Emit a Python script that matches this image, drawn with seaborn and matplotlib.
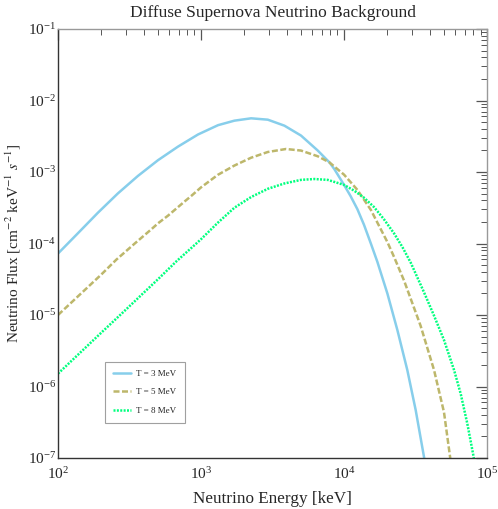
import numpy as np
import pandas as pd
import matplotlib
matplotlib.use('Agg')
import matplotlib.pyplot as plt
import seaborn as sns

# values: energy in keV, log10 of flux in cm^-2 keV^-1 s^-1
e_t3 = [100, 138, 190, 262, 362, 500, 690, 953, 1315, 1710, 2240, 2930, 3830, 5000,
        6550, 7900, 8560, 10000, 11100, 12400, 13800, 15400, 17100, 20100, 23600, 27700,
        31700, 36200, 40000]
logf_t3 = [-4.14, -3.855, -3.57, -3.30, -3.055, -2.835, -2.645, -2.475, -2.345, -2.282,
           -2.249, -2.268, -2.352, -2.49, -2.70, -2.865, -2.96, -3.18, -3.335, -3.52,
           -3.74, -4.0, -4.256, -4.70, -5.21, -5.77, -6.33, -6.98, -7.5]

e_t5 = [100, 200, 256, 344, 450, 500, 588, 770, 854, 1000, 1310, 1710, 2240, 2930, 3930,
        5000, 6550, 7900, 10000, 12400, 15400, 20100, 22400, 26300, 34300, 42600, 50000,
        55100, 60000]
logf_t5 = [-5.0, -4.437, -4.225, -4.0, -3.80, -3.718, -3.61, -3.41, -3.335, -3.215, -3.04,
           -2.91, -2.80, -2.72, -2.678, -2.70, -2.78, -2.865, -3.037, -3.25, -3.53, -3.98,
           -4.19, -4.52, -5.15, -5.77, -6.36, -6.98, -7.5]

e_t8 = [100, 200, 300, 500, 672, 927, 1000, 1310, 1710, 2240, 2930, 3830, 5000, 6210,
        7690, 10000, 11750, 13800, 16200, 19000, 22400, 25600, 29300, 36200, 42600, 50000,
        58800, 65400, 72800, 80500, 88000]
logf_t8 = [-5.82, -5.25, -4.92, -4.50, -4.25, -4.0, -3.94, -3.71, -3.50, -3.35, -3.235,
           -3.16, -3.11, -3.098, -3.11, -3.18, -3.26, -3.36, -3.49, -3.66, -3.86, -4.05,
           -4.27, -4.68, -5.01, -5.35, -5.77, -6.10, -6.52, -6.98, -7.5]

labels = ['T = 3 MeV', 'T = 5 MeV', 'T = 8 MeV']

df = pd.concat([
    pd.DataFrame({'E': e_t3, 'F': 10 ** np.array(logf_t3), 'T': labels[0]}),
    pd.DataFrame({'E': e_t5, 'F': 10 ** np.array(logf_t5), 'T': labels[1]}),
    pd.DataFrame({'E': e_t8, 'F': 10 ** np.array(logf_t8), 'T': labels[2]}),
])

sns.set_style('white')
plt.rcParams['font.family'] = ['Liberation Serif', 'DejaVu Serif']
plt.rcParams['mathtext.fontset'] = 'stix'
plt.rcParams['lines.solid_joinstyle'] = 'round'
plt.rcParams['lines.dash_joinstyle'] = 'round'

fig = plt.figure(figsize=(4.98, 5.09), dpi=100)
ax = fig.add_axes([0.1165, 0.1002, 0.8615, 0.8428])

palette = {labels[0]: '#87CEEB', labels[1]: '#BDB76B', labels[2]: '#00FF7F'}
dashes = {labels[0]: '', labels[1]: (2.4, 1.0), labels[2]: (0.8, 0.55)}
sns.lineplot(data=df, x='E', y='F', hue='T', style='T', palette=palette, dashes=dashes,
             linewidth=1.8, sort=False, estimator=None, ax=ax)

ax.set_xscale('log')
ax.set_yscale('log')
ax.set_xlim(1e2, 1e5)
ax.set_ylim(1e-7, 1e-1)

ax.set_title('Diffuse Supernova Neutrino Background', fontsize=12.5, pad=8.5)
ax.set_xlabel('Neutrino Energy [keV]', fontsize=12.3)
ax.set_ylabel('Neutrino Flux [cm$^{-2}$ keV$^{-1}$ $s^{-1}$]', fontsize=11)
ax.xaxis.set_label_coords(0.5, -0.077)
ax.yaxis.set_label_coords(-0.082, 0.5)

ax.tick_params(which='both', direction='in', top=True, right=True, labelsize=11,
               color='#555555')
ax.tick_params(which='major', length=8, width=0.9)
ax.tick_params(which='minor', length=4, width=0.7)
ax.tick_params(axis='x', pad=5.5)
ax.tick_params(axis='y', pad=1.5)
ax.xaxis.set_minor_locator(matplotlib.ticker.LogLocator(base=10, subs=np.arange(2, 10), numticks=20))
ax.yaxis.set_minor_locator(matplotlib.ticker.LogLocator(base=10, subs=np.arange(2, 10), numticks=20))
for side in ['left', 'bottom']:
    ax.spines[side].set_color('#333333')
for side in ['top', 'right']:
    ax.spines[side].set_color('#999999')
for s in ax.spines.values():
    s.set_linewidth(1.0)

leg = ax.legend(loc='lower left', bbox_to_anchor=(0.11, 0.082), fontsize=6.5,
                frameon=True, fancybox=False, handlelength=2.0, handletextpad=0.55,
                borderpad=0.9, labelspacing=1.1, borderaxespad=0)
leg.get_frame().set_edgecolor('#888888')
leg.get_frame().set_linewidth(0.8)

fig.savefig('out.png', dpi=100)
